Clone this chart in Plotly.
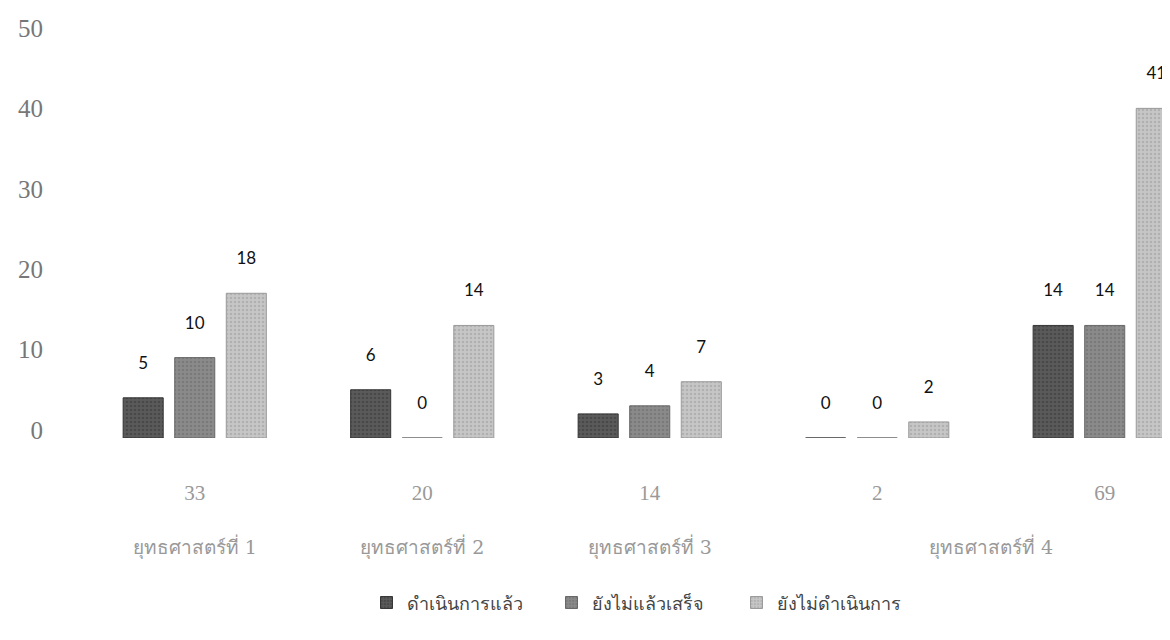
import plotly.graph_objects as go

strategies = ["ยุทธศาสตร์ที่ 1", "ยุทธศาสตร์ที่ 2", "ยุทธศาสตร์ที่ 3", "ยุทธศาสตร์ที่ 4", "ยุทธศาสตร์ที่ 4"]
totals = ["33", "20", "14", "2", "69"]
series_names = ["ดำเนินการแล้ว", "ยังไม่แล้วเสร็จ", "ยังไม่ดำเนินการ"]
done = [5, 6, 3, 0, 14]
unfinished = [10, 0, 4, 0, 14]
not_started = [18, 14, 7, 2, 41]

series_values = [done, unfinished, not_started]
colors = ["#5a5a5a", "#8a8a8a", "#c6c6c6"]
fg = ["#363636", "#686868", "#9a9a9a"]

idx = list(range(len(totals)))
# strategy label positions: centre of the categories sharing each label
strat_labels = []
strat_pos = []
for s in dict.fromkeys(strategies):
    members = [i for i, v in enumerate(strategies) if v == s]
    strat_labels.append(s)
    strat_pos.append(sum(members) / len(members))

fig = go.Figure()
for name, vals, c, f in zip(series_names, series_values, colors, fg):
    fig.add_trace(go.Bar(
        x=idx, y=vals, name=name,
        marker=dict(color=c, line=dict(color=f, width=1),
                    pattern=dict(shape=".", size=4, solidity=0.3, fgcolor=f, bgcolor=c)),
        text=vals, texttemplate="%{text}<br> ", textposition="outside", cliponaxis=False,
        textfont=dict(family="Lato, Open Sans", size=17, color="#111"),
    ))

# invisible trace carrying the strategy-label axis
fig.add_trace(go.Scatter(x=strat_pos, y=[0] * len(strat_pos), xaxis="x2", mode="markers",
                         marker=dict(opacity=0), showlegend=False, hoverinfo="skip"))

xrange = [-0.5, 4.287]
fig.update_layout(
    width=1170, height=640,
    paper_bgcolor="white", plot_bgcolor="white",
    margin=dict(l=73, r=8, t=28, b=210),
    barmode="group", bargap=0.32, bargroupgap=0.223,
    showlegend=True,
    legend=dict(orientation="h", x=0.517, xanchor="center", xref="paper",
                y=-0.41, yanchor="middle",
                font=dict(family="DejaVu Sans", size=18, color="#444"),
                entrywidth=140, itemwidth=30),
    xaxis=dict(range=xrange, tickvals=idx, ticktext=totals, automargin=False,
               showline=False, showgrid=False, zeroline=False, ticks="",
               ticklabelstandoff=40,
               tickfont=dict(family="Liberation Serif", size=21, color="#999")),
    xaxis2=dict(range=xrange, overlaying="x", anchor="y", side="bottom",
                tickvals=strat_pos, ticktext=strat_labels, automargin=False,
                showline=False, showgrid=False, zeroline=False, ticks="",
                ticklabelstandoff=96,
                tickfont=dict(family="DejaVu Serif", size=19, color="#999")),
    yaxis=dict(range=[0, 50], dtick=10, showgrid=False, zeroline=False,
               showline=False, ticks="", automargin=False,
               tickfont=dict(family="Liberation Serif", size=25, color="#777"),
               ticklabelshift=-8, ticklabelstandoff=37),
)

fig.write_html("out.html")
